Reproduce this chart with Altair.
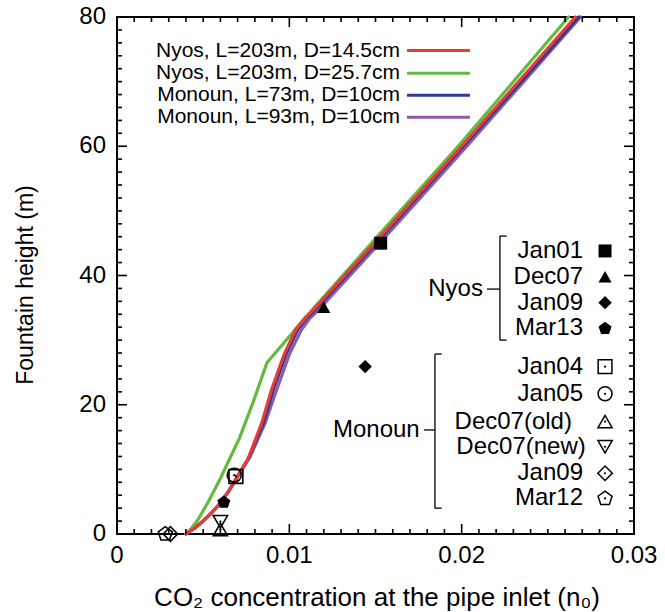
import altair as alt
import pandas as pd

FONT = "Liberation Sans"

# ---------------------------------------------------------------------------
# Model curves: fountain height (m) against CO2 concentration at the inlet
# ---------------------------------------------------------------------------
series_names = [
    "Nyos, L=203m, D=14.5cm",
    "Nyos, L=203m, D=25.7cm",
    "Monoun, L=73m, D=10cm",
    "Monoun, L=93m, D=10cm",
]
series_colors = ["#e63c36", "#64b93e", "#2f3a93", "#8e5aa9"]

nyos_d145_n0 = [0.0040, 0.0045, 0.0050, 0.0055, 0.0060, 0.0065, 0.0070, 0.0076,
                0.0084, 0.0090, 0.0097, 0.0104, 0.0109, 0.0113, 0.0150, 0.0200, 0.0266]
nyos_d145_h = [0.0, 0.9, 2.0, 3.3, 4.8, 6.7, 9.0, 11.6,
               17.2, 22.6, 27.8, 31.8, 33.4, 34.4, 45.2, 60.0, 80.0]

nyos_d257_n0 = [0.0040, 0.0043, 0.0047, 0.0053, 0.0060, 0.0066, 0.0071, 0.0079,
                0.0087, 0.0112, 0.0149, 0.0199, 0.0262]
nyos_d257_h = [0.0, 0.8, 2.2, 5.0, 8.6, 12.0, 14.8, 20.4,
               26.5, 34.3, 45.4, 60.3, 80.0]

monoun_l73_n0 = [0.0040, 0.0045, 0.0050, 0.0055, 0.0060, 0.0065, 0.0070, 0.0076,
                 0.0085, 0.0091, 0.0098, 0.0105, 0.0110, 0.0114, 0.0151, 0.0201, 0.0268]
monoun_l73_h = [0.0, 0.9, 2.0, 3.3, 4.8, 6.7, 8.9, 11.6,
                17.2, 22.6, 27.8, 31.7, 33.4, 34.4, 45.2, 60.0, 80.0]

monoun_l93_n0 = [0.0040, 0.0045, 0.0050, 0.0055, 0.0060, 0.0065, 0.0070, 0.0077,
                 0.0086, 0.0093, 0.0100, 0.0107, 0.0112, 0.0116, 0.0153, 0.0203, 0.0269]
monoun_l93_h = [0.0, 0.9, 2.0, 3.3, 4.8, 6.7, 8.9, 11.8,
                17.2, 22.6, 27.8, 31.6, 33.4, 34.4, 45.2, 60.0, 80.0]

# ---------------------------------------------------------------------------
# Field observations
# ---------------------------------------------------------------------------
nyos_dates = ["Jan01", "Dec07", "Jan09", "Mar13"]
nyos_obs_n0 = [0.0153, 0.0120, 0.0144, 0.0062]
nyos_obs_h = [45.0, 35.1, 25.9, 4.9]

monoun_dates = ["Jan04", "Jan05", "Dec07(old)", "Dec07(new)", "Jan09", "Mar12"]
monoun_obs_n0 = [0.0069, 0.0068, 0.0060, 0.0060, 0.0031, 0.0028]
monoun_obs_h = [8.9, 9.1, 0.7, 1.9, 0.0, 0.0]

# marker style per observation (shape and area)
PENTAGON = "M0,-1L0.951,-0.309L0.588,0.809L-0.588,0.809L-0.951,-0.309Z"
marker_keys = ["Nyos " + d for d in nyos_dates] + ["Monoun " + d for d in monoun_dates]
marker_shapes = ["square", "triangle-up", "diamond", PENTAGON,
                 "square", "circle", "triangle-up", "triangle-down", "diamond", PENTAGON]
marker_sizes = [169, 215, 215, 160, 150, 100, 115, 115, 115, 130]

# ---------------------------------------------------------------------------
# Axis ticks and labels
# ---------------------------------------------------------------------------
x_major = [0, 0.01, 0.02, 0.03]
x_major_labels = ["0", "0.01", "0.02", "0.03"]
x_minor = [i / 1000 for i in range(31) if i % 10]
y_major = [0, 20, 40, 60, 80]
y_major_labels = ["0", "20", "40", "60", "80"]
y_minor = [v for v in range(0, 81, 2) if v % 20]
x_title = "CO₂ concentration at the pipe inlet (n₀)"
y_title = "Fountain height (m)"

# ---------------------------------------------------------------------------
# Key layout (in data units)
# ---------------------------------------------------------------------------
line_key_text_x = 0.01642
line_key_x0, line_key_x1 = 0.01683, 0.02048
line_key_rows = [74.8, 71.3, 67.9, 64.5]

key_text_x = 0.02704
key_symbol_x = 0.02832
nyos_key_rows = [43.8, 39.8, 35.8, 31.8]
monoun_key_rows = [25.9, 21.7, 17.4, 13.5, 9.4, 5.5]
monoun_key_text_x = [0.02704, 0.02704, 0.02640, 0.02720, 0.02704, 0.02704]

group_names = ["Nyos", "Monoun"]
group_text_x = [0.02135, 0.01768]
group_text_y = [37.9, 16.1]

# bracket segments: x, x2, y, y2
bracket_x = [0.02222, 0.02222, 0.02222, 0.02147, 0.01845, 0.01845, 0.01845, 0.01781]
bracket_x2 = [0.02222, 0.02261, 0.02261, 0.02222, 0.01845, 0.01884, 0.01884, 0.01845]
bracket_y = [30.0, 46.1, 30.0, 37.9, 4.0, 27.85, 4.0, 16.1]
bracket_y2 = [46.1, 46.1, 30.0, 37.9, 27.85, 27.85, 4.0, 16.1]

# ---------------------------------------------------------------------------
# Scales
# ---------------------------------------------------------------------------
W = H = 517
X_MIN, X_MAX = 0.0, 0.03
Y_MIN, Y_MAX = 0.0, 80.0
X = alt.Scale(domain=[X_MIN, X_MAX], nice=False, zero=False)
Y = alt.Scale(domain=[Y_MIN, Y_MAX], nice=False, zero=False)
COLOR = alt.Scale(domain=series_names, range=series_colors)
SHAPE = alt.Scale(domain=marker_keys, range=marker_shapes)
SIZE = alt.Scale(domain=marker_keys, range=marker_sizes)

dx = (X_MAX - X_MIN) / W   # data units per pixel along x
dy = (Y_MAX - Y_MIN) / H   # data units per pixel along y

MAJOR_LEN = 10  # px
MINOR_LEN = 5   # px


def xy(xf, yf):
    return dict(x=alt.X(xf, scale=X, axis=None), y=alt.Y(yf, scale=Y, axis=None))


# inward ticks on all four sides; each tick is a two-point path
tick_pts = []
tid = 0
for values, length in ((x_major, MAJOR_LEN), (x_minor, MINOR_LEN)):
    for v in values:
        tick_pts += [(tid, 0, v, Y_MIN), (tid, 1, v, Y_MIN + length * dy)]
        tid += 1
        tick_pts += [(tid, 0, v, Y_MAX), (tid, 1, v, Y_MAX - length * dy)]
        tid += 1
for values, length in ((y_major, MAJOR_LEN), (y_minor, MINOR_LEN)):
    for v in values:
        tick_pts += [(tid, 0, X_MIN, v), (tid, 1, X_MIN + length * dx, v)]
        tid += 1
        tick_pts += [(tid, 0, X_MAX, v), (tid, 1, X_MAX - length * dx, v)]
        tid += 1
tick_df = pd.DataFrame(tick_pts, columns=["tick", "k", "tx", "ty"])
ticks = alt.Chart(tick_df).mark_line(color="black", strokeWidth=1.6, opacity=1).encode(
    **xy("tx:Q", "ty:Q"), detail="tick:N", order="k:Q")

# tick labels and axis titles
x_lab_df = pd.DataFrame({"v": x_major, "label": x_major_labels, "y": Y_MIN - 10 * dy})
x_labels = alt.Chart(x_lab_df).mark_text(
    align="center", baseline="top", font=FONT, fontSize=24, color="black").encode(
    **xy("v:Q", "y:Q"), text="label:N")
y_lab_df = pd.DataFrame({"v": y_major, "label": y_major_labels, "x": X_MIN - 11 * dx})
y_labels = alt.Chart(y_lab_df).mark_text(
    align="right", baseline="middle", font=FONT, fontSize=24, color="black").encode(
    **xy("x:Q", "v:Q"), text="label:N")

titles_df = pd.DataFrame({"t": [x_title], "x": [X_MIN + 260 * dx], "y": [Y_MIN - 64 * dy]})
x_title_mark = alt.Chart(titles_df).mark_text(
    align="center", baseline="middle", font=FONT, fontSize=26, color="black").encode(
    **xy("x:Q", "y:Q"), text="t:N")
y_title_df = pd.DataFrame({"t": [y_title], "x": [X_MIN - 91 * dx], "y": [Y_MAX - 268 * dy]})
y_title_mark = alt.Chart(y_title_df).mark_text(
    align="center", baseline="middle", angle=270, font=FONT, fontSize=23, color="black").encode(
    **xy("x:Q", "y:Q"), text="t:N")

# ---------------------------------------------------------------------------
# Curves and observations
# ---------------------------------------------------------------------------
def curve(name, n0, h):
    df = pd.DataFrame({"n0": n0, "h": h, "series": name, "i": range(len(n0))})
    return alt.Chart(df).mark_line(strokeWidth=3.2, strokeCap="round", strokeJoin="round").encode(
        **xy("n0:Q", "h:Q"),
        color=alt.Color("series:N", scale=COLOR, legend=None),
        order="i:Q",
    )


curve_l93 = curve(series_names[3], monoun_l93_n0, monoun_l93_h)
curve_l73 = curve(series_names[2], monoun_l73_n0, monoun_l73_h)
curve_d257 = curve(series_names[1], nyos_d257_n0, nyos_d257_h)
curve_d145 = curve(series_names[0], nyos_d145_n0, nyos_d145_h)

nyos_df = pd.DataFrame({"n0": nyos_obs_n0, "h": nyos_obs_h,
                        "marker": ["Nyos " + d for d in nyos_dates]})
monoun_df = pd.DataFrame({"n0": monoun_obs_n0, "h": monoun_obs_h,
                          "marker": ["Monoun " + d for d in monoun_dates]})


def marker_enc():
    return dict(shape=alt.Shape("marker:N", scale=SHAPE, legend=None),
                size=alt.Size("marker:O", scale=SIZE, legend=None))


filled_pts = alt.Chart(nyos_df).mark_point(filled=True, color="black", opacity=1).encode(
    **xy("n0:Q", "h:Q"), **marker_enc())
open_pts = alt.Chart(monoun_df).mark_point(filled=False, color="black", strokeWidth=1.6, opacity=1).encode(
    **xy("n0:Q", "h:Q"), **marker_enc())
open_dots = alt.Chart(monoun_df).mark_circle(size=5, color="black", opacity=1).encode(
    **xy("n0:Q", "h:Q"))

# key: model curves (top left)
line_key_df = pd.DataFrame({"series": series_names, "row": line_key_rows,
                            "tx": line_key_text_x, "x0": line_key_x0, "x1": line_key_x1})
line_key_text = alt.Chart(line_key_df).mark_text(
    align="right", baseline="middle", font=FONT, fontSize=21, color="black").encode(
    **xy("tx:Q", "row:Q"), text="series:N")
line_key_rules = alt.Chart(line_key_df).mark_rule(strokeWidth=3).encode(
    **xy("x0:Q", "row:Q"), x2="x1:Q",
    color=alt.Color("series:N", scale=COLOR, legend=None))

# key: observations (right)
obs_key_df = pd.DataFrame({
    "label": nyos_dates + monoun_dates,
    "marker": marker_keys,
    "row": nyos_key_rows + monoun_key_rows,
    "tx": [key_text_x] * len(nyos_dates) + monoun_key_text_x,
    "sx": key_symbol_x,
    "lake": ["Nyos"] * len(nyos_dates) + ["Monoun"] * len(monoun_dates),
})
obs_key_text = alt.Chart(obs_key_df).mark_text(
    align="right", baseline="middle", font=FONT, fontSize=24, color="black").encode(
    **xy("tx:Q", "row:Q"), text="label:N")
obs_key_filled = alt.Chart(obs_key_df).transform_filter("datum.lake == 'Nyos'").mark_point(
    filled=True, color="black", opacity=1).encode(**xy("sx:Q", "row:Q"), **marker_enc())
obs_key_open = alt.Chart(obs_key_df).transform_filter("datum.lake == 'Monoun'").mark_point(
    filled=False, color="black", strokeWidth=1.5, opacity=1).encode(**xy("sx:Q", "row:Q"), **marker_enc())
obs_key_dots = alt.Chart(obs_key_df).transform_filter("datum.lake == 'Monoun'").mark_circle(
    size=5, color="black", opacity=1).encode(**xy("sx:Q", "row:Q"))

group_df = pd.DataFrame({"name": group_names, "gx": group_text_x, "gy": group_text_y})
group_text = alt.Chart(group_df).mark_text(
    align="right", baseline="middle", font=FONT, fontSize=24, color="black", dx=-2).encode(
    **xy("gx:Q", "gy:Q"), text="name:N")

bracket_df = pd.DataFrame({"x": bracket_x, "x2": bracket_x2, "y": bracket_y, "y2": bracket_y2})
brackets = alt.Chart(bracket_df).mark_rule(color="black", strokeWidth=1.3).encode(
    **xy("x:Q", "y:Q"), x2="x2:Q", y2="y2:Q")

chart = alt.layer(
    curve_l93, curve_l73, curve_d257, curve_d145,
    brackets, line_key_rules, line_key_text, obs_key_text, group_text,
    filled_pts, open_pts, open_dots, obs_key_filled, obs_key_open, obs_key_dots,
    x_labels, y_labels, x_title_mark, y_title_mark, ticks,
).properties(
    width=W, height=H,
    padding={"left": 117, "top": 17, "right": 31, "bottom": 78},
    autosize=alt.AutoSizeParams(type="none"),
    background="white",
).configure_view(stroke="black", strokeWidth=2)

chart.save("out.html", embed_options={"renderer": "svg", "actions": False})
